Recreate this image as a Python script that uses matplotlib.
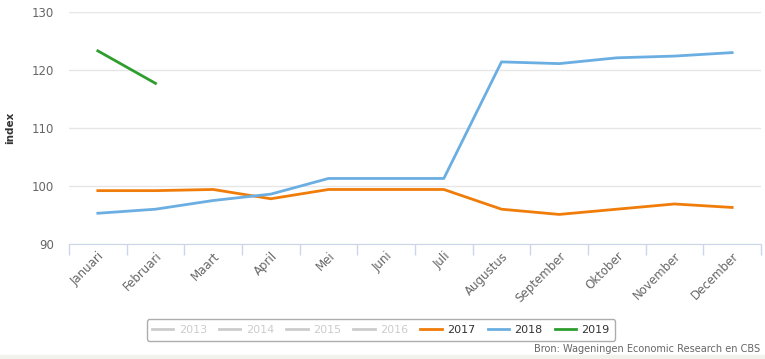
import matplotlib
matplotlib.use("Agg")
from matplotlib import pyplot as plt
from matplotlib.lines import Line2D

maanden = ["Januari", "Februari", "Maart", "April", "Mei", "Juni", "Juli",
           "Augustus", "September", "Oktober", "November", "December"]
jaren = ["2013", "2014", "2015", "2016", "2017", "2018", "2019"]

v2017 = [99.2, 99.2, 99.4, 97.8, 99.4, 99.4, 99.4, 96.0, 95.1, 96.0, 96.9, 96.3]
v2018 = [95.3, 96.0, 97.5, 98.6, 101.3, 101.3, 101.3, 121.4, 121.1, 122.1, 122.4, 123.0]
v2019 = [123.3, 117.7]

kleur = {"2017": "#f07c0a", "2018": "#6baee2", "2019": "#2e9e2e"}
grijs = "#cccccc"

plt.rcParams['font.family'] = ['DejaVu Sans']

fig = plt.figure(figsize=(7.65, 3.59), dpi=100)
ax = fig.add_axes([69 / 765, 1 - 244 / 359, 692 / 765, 232 / 359])

x = list(range(len(maanden)))
ax.plot(x, v2017, color=kleur["2017"], lw=2)
ax.plot(x, v2018, color=kleur["2018"], lw=2)
ax.plot(x[:len(v2019)], v2019, color=kleur["2019"], lw=2)

ax.set_xlim(-0.5, 11.5)
ax.set_ylim(90, 130)
ax.set_yticks([90, 100, 110, 120, 130])
ax.grid(axis='y', color='#e6e6e6', lw=1)
ax.set_axisbelow(True)

# tickmarks tussen de categorieen, labels in het midden
ax.set_xticks([i - 0.5 for i in range(13)])
ax.set_xticklabels([])
ax.set_xticks(x, minor=True)
ax.set_xticklabels(maanden, minor=True, rotation=45, ha='right',
                   rotation_mode='anchor', fontsize=8.5, color='#666666')
ax.tick_params(axis='x', which='major', length=8, color='#ccd6eb', width=1)
ax.tick_params(axis='x', which='minor', length=0, pad=4)
ax.tick_params(axis='y', length=0, labelsize=8.5, labelcolor='#666666', pad=11)

for s in ['top', 'right', 'left']:
    ax.spines[s].set_visible(False)
ax.spines['bottom'].set_color('#ccd6eb')

ax.set_ylabel("index", fontsize=7.5, fontweight='bold', color='#333333', labelpad=10)
ax.yaxis.set_label_coords(-54 / 692, 0.5)

handles = []
for j in jaren:
    handles.append(Line2D([], [], color=kleur.get(j, grijs), lw=2))
leg = fig.legend(handles, jaren, loc='center', bbox_to_anchor=(381 / 765, 1 - 330 / 359),
                 ncol=7, fontsize=8, frameon=True, fancybox=True, handlelength=1.9,
                 handletextpad=0.5, columnspacing=1.1, borderpad=0.5)
leg.get_frame().set_edgecolor('#999999')
leg.get_frame().set_linewidth(1)
for t, j in zip(leg.get_texts(), jaren):
    t.set_color('#333333' if j in kleur else grijs)

fig.patches.append(plt.Rectangle((0, 0), 1, 4 / 359, transform=fig.transFigure,
                                 color='#f2f2ec', zorder=-1))
fig.text(760 / 765, 1 - 349 / 359, "Bron: Wageningen Economic Research en CBS",
         ha='right', va='center', fontsize=7, color='#666666')

fig.savefig("out.png", dpi=100)
